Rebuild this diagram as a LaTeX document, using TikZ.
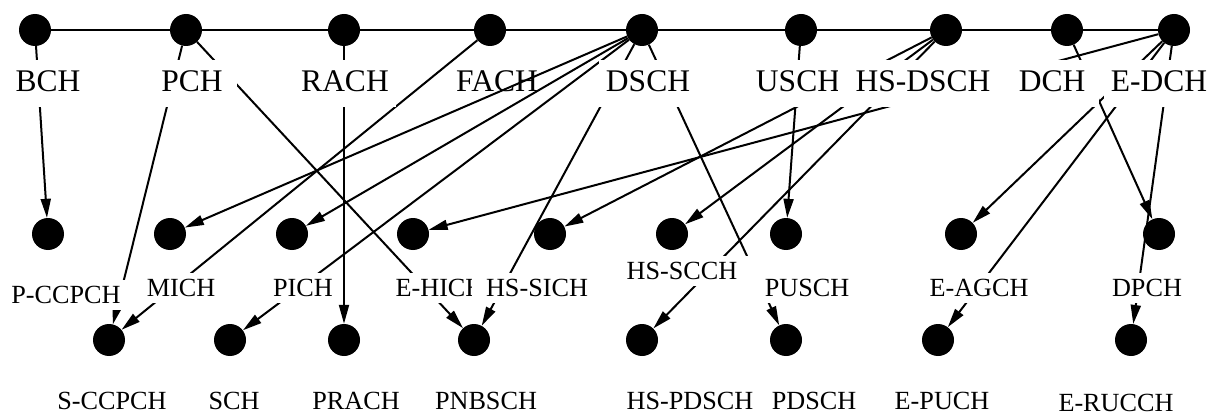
\documentclass[tikz,border=0pt]{standalone}
\usepackage{fontspec}
\setmainfont{Liberation Serif}
\usetikzlibrary{arrows.meta}
\tikzset{
  dotnode/.style={circle,fill=black,minimum size=32pt,inner sep=0pt},
  toplab/.style={font=\fontsize{31.5}{36}\selectfont,fill=white,inner xsep=7pt,text height=21pt,text depth=5pt,inner ysep=10.5pt},
  midlab/.style={font=\fontsize{26.2}{30}\selectfont,fill=white,inner xsep=8pt,text height=17.3pt,text depth=0pt,inner ysep=6.35pt},
  botlab/.style={font=\fontsize{26.2}{30}\selectfont,inner sep=0pt},
  edge/.style={line width=2pt,-{Triangle[length=19pt,width=10pt]}},
  rail/.style={line width=1.6pt}
}
\begin{document}
\begin{tikzpicture}[x=1pt,y=-1pt]
\useasboundingbox (0,0) rectangle (1224,417);
% top dots
\node[dotnode] (t1) at (35,30) {};
\node[dotnode] (t2) at (186,30) {};
\node[dotnode] (t3) at (344,30) {};
\node[dotnode] (t4) at (490,30) {};
\node[dotnode] (t5) at (642,30) {};
\node[dotnode] (t6) at (801,30) {};
\node[dotnode] (t7) at (946,30) {};
\node[dotnode] (t8) at (1067,30) {};
\node[dotnode] (t9) at (1174,30) {};
\draw[rail] (t1) -- (t9);
% middle dots
\node[dotnode] (m1) at (48,234) {};
\node[dotnode] (m2) at (170,234) {};
\node[dotnode] (m3) at (292,234) {};
\node[dotnode] (m4) at (413,234) {};
\node[dotnode] (m5) at (550,234) {};
\node[dotnode] (m6) at (672,234) {};
\node[dotnode] (m7) at (786,234) {};
\node[dotnode] (m8) at (961,234) {};
\node[dotnode] (m9) at (1159,234) {};
% bottom dots
\node[dotnode] (b1) at (109,340) {};
\node[dotnode] (b2) at (230,340) {};
\node[dotnode] (b3) at (344,340) {};
\node[dotnode] (b4) at (474,340) {};
\node[dotnode] (b5) at (642,340) {};
\node[dotnode] (b6) at (786,340) {};
\node[dotnode] (b7) at (938,340) {};
\node[dotnode] (b8) at (1131,340) {};
% FACH label lies under the edges
\node[toplab] (lt4) at (497,83.5) {FACH};
% edges
\draw[edge] (t1) -- (m1);
\draw[edge] (t2) -- (b1);
\draw[edge] (t2) -- (b4);
\draw[edge] (t3) -- (b3);
\draw[edge] (t4) -- (b1);
\draw[edge] (t5) -- (m2);
\draw[edge] (t5) -- (m3);
\draw[edge] (t5) -- (b2);
\draw[edge] (t5) -- (b4);
\draw[edge] (t5) -- (b6);
\draw[edge] (t6) -- (m7);
\draw[edge] (t7) -- (m5);
\draw[edge] (t7) -- (m6);
\draw[edge] (t7) -- (b5);
\draw[edge] (t8) -- (m9);
\draw[edge] (t9) -- (m4);
\draw[edge] (t9) -- (m8);
\draw[edge] (t9) -- (b7);
\draw[edge] (t9) -- (b8);
% top labels
\node[toplab] (lt1) at (48,83.5) {BCH};
\node[toplab,inner xsep=14pt] (lt2) at (192,83.5) {PCH};
\node[toplab] (lt3) at (345,83.5) {RACH};
\node[toplab] (lt5) at (648,83.5) {DSCH};
\node[toplab] (lt6) at (798,83.5) {USCH};
\node[toplab,inner xsep=18pt] (lt7) at (923,83.5) {HS-DSCH};
\node[toplab,inner xsep=14pt] (lt8) at (1052,83.5) {DCH};
\node[toplab] (lt9) at (1159,83.5) {E-DCH};
% middle labels
\node[midlab] (lm1) at (66,295) {P-CCPCH};
\node[midlab] (lm2) at (181,288) {MICH};
\node[midlab] (lm3) at (303,288) {PICH};
\node[midlab] (lm4) at (440,288) {E-HICH};
\node[midlab,inner xsep=14pt] (lm5) at (537,288) {HS-SICH};
\node[midlab,inner xsep=20pt] (lm6) at (682,271) {HS-SCCH};
\node[midlab] (lm7) at (807,288) {PUSCH};
\node[midlab] (lm8) at (979,288) {E-AGCH};
\node[midlab,inner xsep=10pt] (lm9) at (1147,288) {DPCH};
% bottom labels
\node[botlab] (lb1) at (112,401) {S-CCPCH};
\node[botlab] (lb2) at (234,401) {SCH};
\node[botlab] (lb3) at (356,401) {PRACH};
\node[botlab] (lb4) at (486,401) {PNBSCH};
\node[botlab] (lb5) at (690,401) {HS-PDSCH};
\node[botlab] (lb6) at (814,401) {PDSCH};
\node[botlab] (lb7) at (942,401) {E-PUCH};
\node[botlab] (lb8) at (1116,403) {E-RUCCH};
\end{tikzpicture}
\end{document}
